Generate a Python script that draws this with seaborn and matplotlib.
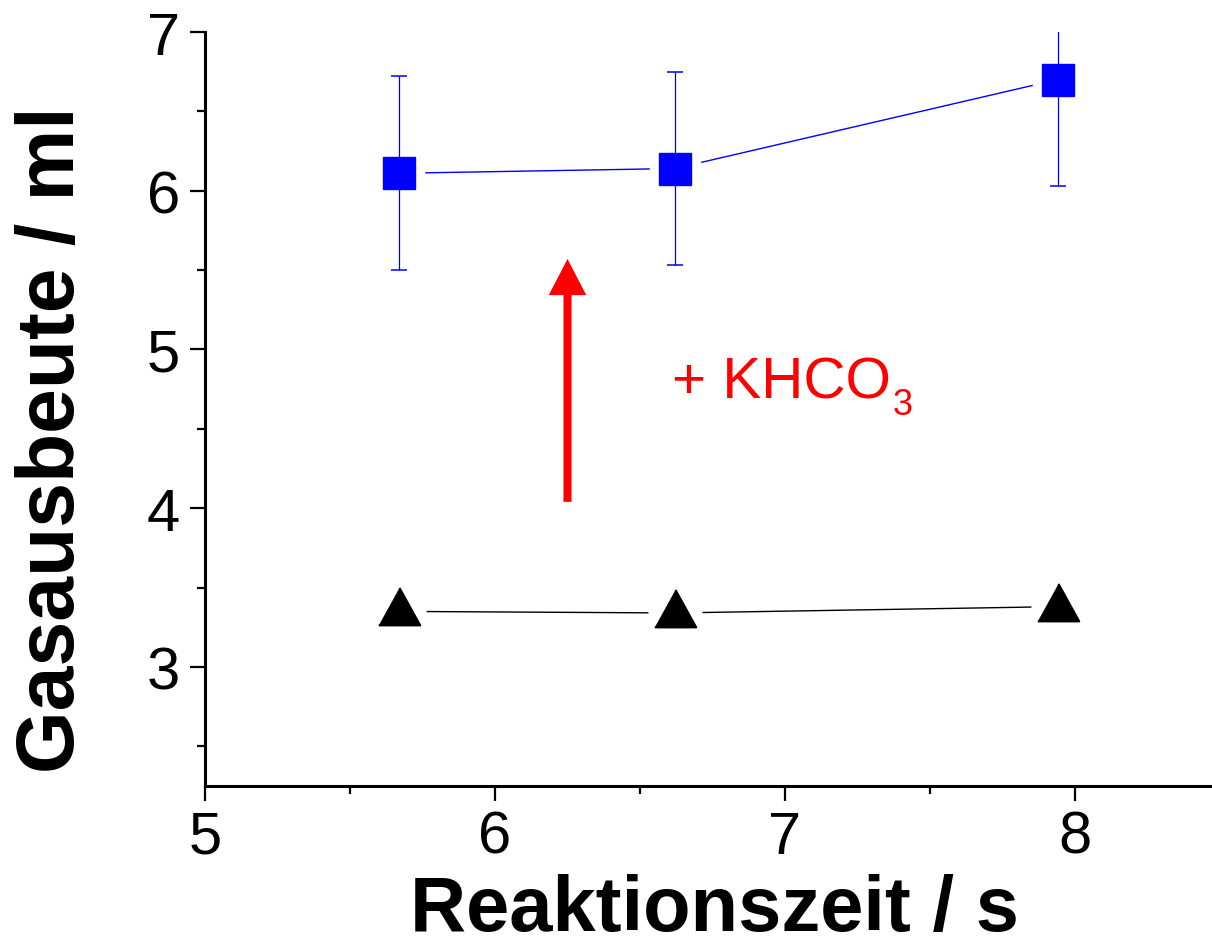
import numpy as np
import matplotlib
matplotlib.use("Agg")
import matplotlib.pyplot as plt
from matplotlib.ticker import MultipleLocator
from matplotlib.patches import FancyArrowPatch
import seaborn as sns

# ---- data ----
reaction_time = [5.67, 6.62, 7.94]           # s
yield_khco3 = [6.11, 6.14, 6.70]             # ml, with KHCO3
yield_khco3_err = [0.61, 0.61, 0.67]
yield_ref = [3.35, 3.34, 3.38]               # ml, without additive

x_label = "Reaktionszeit / s"
y_label = "Gasausbeute / ml"
annot_main = "+ KHCO"
annot_sub = "3"
arrow_x = 6.25
arrow_y = (4.04, 5.57)

sns.set_theme(style="ticks")
plt.rcParams["font.family"] = ["Liberation Sans", "DejaVu Sans"]

fig = plt.figure(figsize=(12.12, 9.45), dpi=100)
ax = fig.add_axes([205 / 1212, 1 - 787 / 945, 1015 / 1212, (787 - 33) / 945])

# connecting lines
sns.lineplot(x=reaction_time, y=yield_khco3, color="#0000FF", lw=1.0, ax=ax, zorder=1)
sns.lineplot(x=reaction_time, y=yield_ref, color="black", lw=1.0, ax=ax, zorder=1)

# white halos (gap between line and marker)
ax.plot(reaction_time, yield_khco3, ls="none", marker="s", ms=36, mfc="white", mec="white", zorder=2)
ax.plot(reaction_time, yield_ref, ls="none", marker="o", ms=38, mfc="white", mec="white", zorder=2)

# error bars
ax.errorbar(reaction_time, yield_khco3, yerr=yield_khco3_err, fmt="none",
            ecolor="#0000FF", elinewidth=0.9, capsize=6, capthick=1.1, zorder=3)

# markers
ax.plot(reaction_time, yield_khco3, ls="none", marker="s", ms=23,
        mfc="#0000FF", mec="#0000FF", zorder=4)
tri = [(-1, -0.67), (1, -0.67), (0, 1.14)]
ax.plot(reaction_time, yield_ref, ls="none", marker=tri, ms=34,
        mfc="black", mec="black", mew=1.5, zorder=4)

# arrow + annotation
arr = FancyArrowPatch((arrow_x, arrow_y[0]), (arrow_x, arrow_y[1]),
                      arrowstyle="simple,head_length=26,head_width=27,tail_width=5.8",
                      mutation_scale=1, color="#FF0000", lw=0, shrinkA=0, shrinkB=0,
                      transform=ax.transData, zorder=5)
ax.add_patch(arr)
t_main = ax.text(6.61, 4.70, annot_main, color="#FF0000", fontsize=42,
                 ha="left", va="baseline")
ax.annotate(annot_sub, xy=(1, 0), xycoords=t_main, xytext=(2, -5),
            textcoords="offset pixels", color="#FF0000", fontsize=26,
            ha="left", va="baseline")

ax.set_xlim(5, 8.5)
ax.set_ylim(2.25, 7)
ax.xaxis.set_major_locator(MultipleLocator(1))
ax.xaxis.set_minor_locator(MultipleLocator(0.5))
ax.yaxis.set_major_locator(MultipleLocator(1))
ax.yaxis.set_minor_locator(MultipleLocator(0.5))

sns.despine(ax=ax)
for s in ("left", "bottom"):
    ax.spines[s].set_linewidth(2.2)
    ax.spines[s].set_color("black")

ax.tick_params(which="major", direction="out", length=11, width=1.6, color="black",
               labelsize=43, labelcolor="black")
ax.tick_params(which="minor", direction="out", length=5.5, width=1.6, color="black")
ax.tick_params(axis="x", which="major", pad=6)
ax.tick_params(axis="y", which="major", pad=7)

ax.set_xlabel(x_label, fontsize=56, fontweight="bold", color="black")
ax.set_ylabel(y_label, fontsize=58, fontweight="bold", color="black")
ax.xaxis.set_label_coords(0.502, -0.115)
ax.yaxis.set_label_coords(-0.112, 0.46)

ax.grid(False)
fig.savefig("out.png", dpi=100, facecolor="white")
